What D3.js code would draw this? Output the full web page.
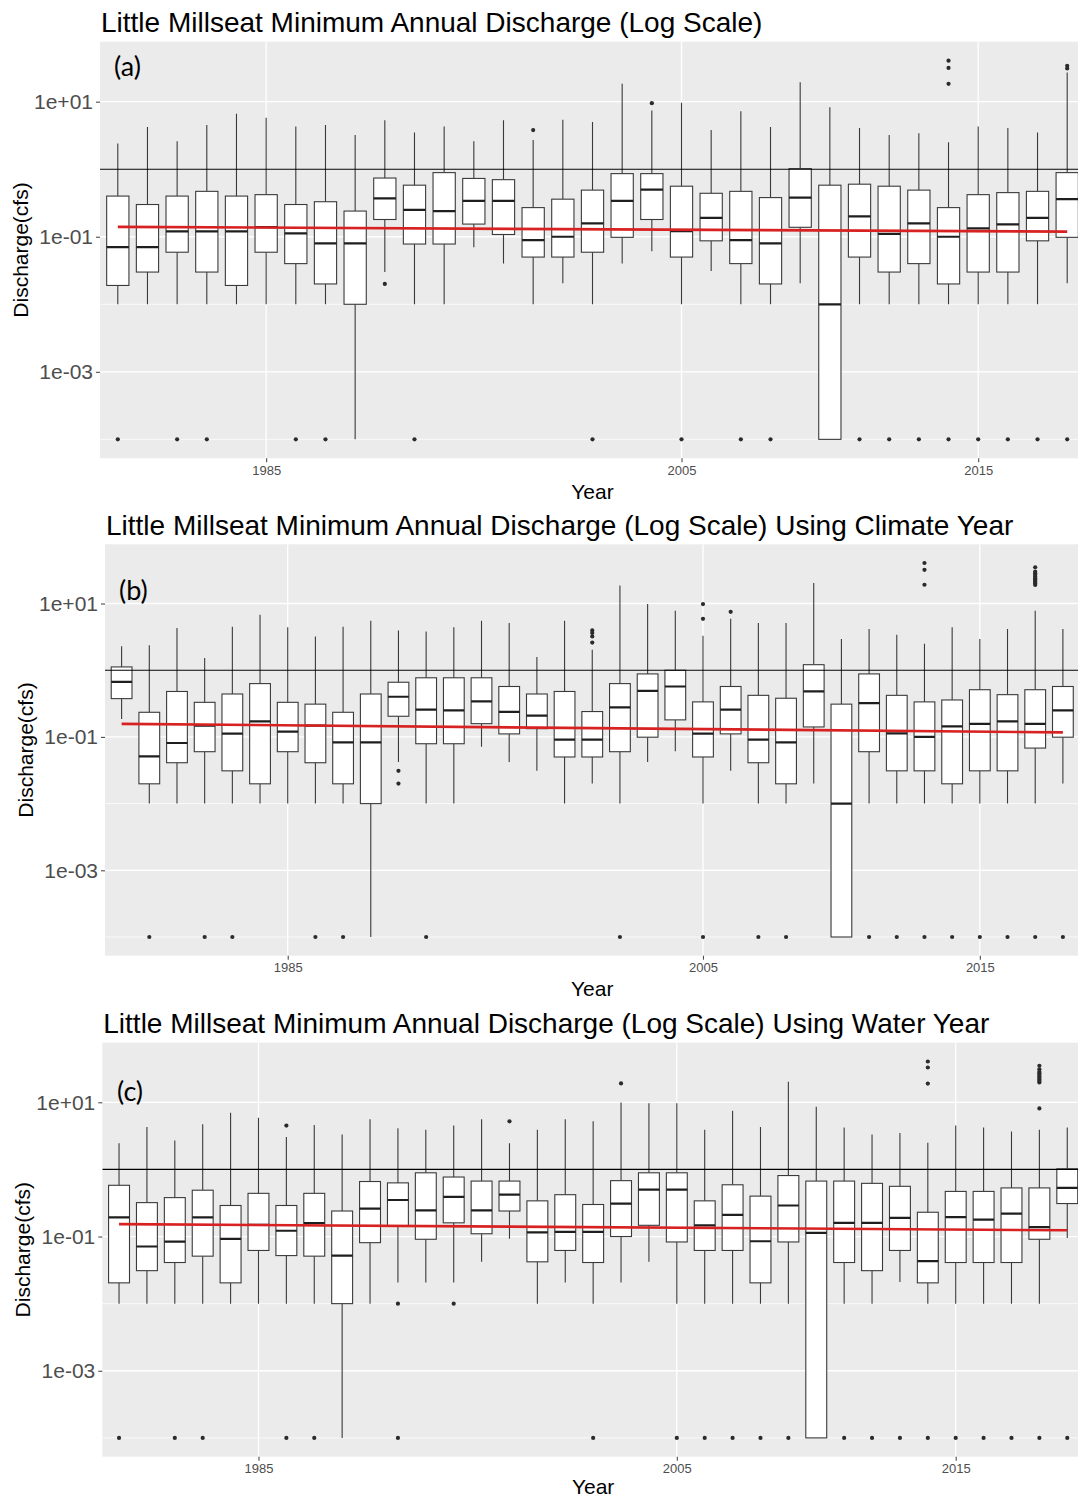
<!DOCTYPE html>
<html>
<head>
<meta charset="utf-8">
<script src="https://cdn.jsdelivr.net/npm/d3@7"></script>
<style>
  body { margin: 0; background: #fff; }
  svg { display: block; }
</style>
</head>
<body>
<svg id="chart" width="1078" height="1500"></svg>
<script>
// ---------- Shared axis settings ----------
const yMajorTicks = [10, 0.1, 0.001];
const yMajorLabels = ["1e+01", "1e-01", "1e-03"];
const yMinorTicks = [1, 0.01, 0.0001];
const xTickYears = [1985, 2005, 2015];
const referenceLevel = 1;

// ---------- (a) calendar year ----------
const yearsA = [1980,1981,1982,1983,1984,1985,1986,1987,1988,1989,1990,1991,1992,
  1999,2000,2001,2002,2003,2004,2005,2006,2007,2008,2009,2010,2011,2012,2013,2014,2015,2016,2017,2018];
const loA  = [0.01,0.01,0.01,0.01,0.01,0.01,0.01,0.01,0.0001,0.03,0.01,0.01,0.07,0.04,0.01,0.0205,0.01,0.04,0.061,0.01,0.031,0.01,0.01,0.0205,0.0001,0.01,0.01,0.01,0.01,0.01,0.01,0.01,0.0205];
const q1A  = [0.019,0.03,0.059,0.03,0.019,0.059,0.04,0.02,0.01,0.18,0.078,0.078,0.154,0.108,0.05,0.05,0.059,0.098,0.18,0.05,0.087,0.04,0.02,0.138,0.0001,0.05,0.03,0.04,0.02,0.03,0.03,0.087,0.098];
const medA = [0.07,0.07,0.12,0.12,0.12,0.139,0.112,0.08,0.08,0.37,0.25,0.24,0.34,0.34,0.089,0.10,0.158,0.34,0.50,0.121,0.19,0.089,0.08,0.38,0.01,0.20,0.11,0.158,0.10,0.133,0.152,0.19,0.36];
const q3A  = [0.40,0.30,0.40,0.47,0.40,0.42,0.30,0.33,0.24,0.74,0.58,0.89,0.73,0.70,0.27,0.36,0.49,0.86,0.86,0.56,0.44,0.47,0.38,1.02,0.58,0.60,0.56,0.49,0.27,0.42,0.45,0.47,0.89];
const hiA  = [2.4,4.2,2.6,4.5,6.6,5.8,4.3,4.5,3.2,5.3,3.5,4.3,2.6,5.3,2.7,5.4,5.0,18.4,7.4,9.6,3.8,7.2,4.2,19.4,8.3,4.06,3.2,3.4,2.5,4.3,4.06,3.5,27];
const outA = [[0.0001],[],[0.0001],[0.0001],[],[],[0.0001],[0.0001],[],[0.02],[0.0001],[],[],[],[3.8],[],[0.0001],[],[9.5],[0.0001],[],[0.0001],[0.0001],[],[],[0.0001],[0.0001],[0.0001],[0.0001,18.4,31.6,40.5],[0.0001],[0.0001],[0.0001],[0.0001,31,34]];
const trendA = [0.14, 0.119];

// ---------- (b) climate year ----------
const yearsB = [1979,1980,1981,1982,1983,1984,1985,1986,1987,1988,1989,1990,1991,1992,
  1998,1999,2000,2001,2002,2003,2004,2005,2006,2007,2008,2009,2010,2011,2012,2013,2014,2015,2016,2017,2018];
const loB  = [0.186,0.01,0.01,0.01,0.01,0.01,0.01,0.01,0.01,0.0001,0.042,0.01,0.01,0.071,0.042,0.031,0.01,0.02,0.01,0.042,0.061,0.01,0.031,0.01,0.01,0.02,0.0001,0.01,0.01,0.01,0.01,0.01,0.01,0.01,0.02];
const q1B  = [0.375,0.0198,0.041,0.06,0.031,0.0198,0.06,0.041,0.0198,0.01,0.204,0.079,0.079,0.158,0.111,0.133,0.05,0.05,0.06,0.099,0.18,0.05,0.111,0.041,0.0198,0.141,0.0001,0.06,0.031,0.031,0.0198,0.031,0.031,0.068,0.099];
const medB = [0.67,0.051,0.081,0.148,0.112,0.171,0.12,0.148,0.083,0.083,0.40,0.256,0.25,0.34,0.237,0.208,0.091,0.091,0.277,0.49,0.57,0.112,0.256,0.091,0.083,0.48,0.01,0.32,0.113,0.10,0.144,0.157,0.171,0.157,0.25];
const q3B  = [1.12,0.234,0.48,0.33,0.44,0.63,0.33,0.31,0.234,0.44,0.66,0.77,0.77,0.77,0.57,0.44,0.48,0.24,0.63,0.88,1.0,0.335,0.57,0.42,0.38,1.21,0.31,0.88,0.42,0.335,0.358,0.51,0.43,0.51,0.57];
const hiB  = [2.28,2.36,4.3,1.52,4.5,6.8,4.4,3.2,4.5,5.5,3.95,3.8,4.4,5.5,5.1,1.58,5.5,2.03,18.7,9.8,7.8,3.3,5.9,5.1,5.1,20.3,2.94,4.15,3.4,2.5,4.4,2.94,4.15,7.8,4.15];
const outB = [[],[0.0001],[],[0.0001],[0.0001],[],[],[0.0001],[0.0001],[],[0.031,0.02],[0.0001],[],[],[],[],[],[2.6,3.2,3.6,3.95],[0.0001],[],[],[0.0001,5.9,9.8],[7.5],[0.0001],[0.0001],[],[],[0.0001],[0.0001],[0.0001,19.1,32,40.5],[0.0001],[0.0001],[0.0001],[0.0001,19,20,21,22,23,24,25.5,27,28.5,30,35],[0.0001]];
const trendB = [0.157, 0.117];

// ---------- (c) water year ----------
const yearsC = [1980,1981,1982,1983,1984,1985,1986,1987,1988,1989,1990,1991,1992,
  1998,1999,2000,2001,2002,2003,2004,2005,2006,2007,2008,2009,2010,2011,2012,2013,2014,2015,2016,2017,2018,2019];
const loC  = [0.01,0.01,0.01,0.01,0.01,0.01,0.01,0.01,0.0001,0.01,0.0206,0.0206,0.0206,0.042,0.093,0.01,0.0206,0.01,0.0206,0.042,0.01,0.01,0.01,0.01,0.01,0.0001,0.01,0.01,0.021,0.01,0.01,0.01,0.01,0.01,0.095];
const q1C  = [0.0204,0.031,0.041,0.051,0.0204,0.062,0.052,0.051,0.01,0.081,0.143,0.091,0.16,0.11,0.24,0.042,0.062,0.041,0.10,0.147,0.083,0.062,0.062,0.0204,0.083,0.0001,0.041,0.031,0.062,0.0204,0.041,0.041,0.041,0.091,0.31];
const medC = [0.193,0.071,0.084,0.193,0.092,0.149,0.122,0.159,0.052,0.26,0.35,0.245,0.39,0.245,0.42,0.115,0.117,0.117,0.31,0.50,0.50,0.147,0.21,0.085,0.29,0.113,0.16,0.16,0.19,0.043,0.195,0.178,0.22,0.138,0.53];
const q3C  = [0.58,0.32,0.38,0.49,0.29,0.44,0.29,0.44,0.24,0.66,0.63,0.89,0.77,0.67,0.67,0.34,0.42,0.30,0.68,0.89,0.89,0.34,0.59,0.40,0.81,0.67,0.67,0.62,0.56,0.23,0.47,0.47,0.53,0.53,1.02];
const hiC  = [2.45,4.3,2.7,4.7,7.0,5.9,3.04,4.6,3.3,5.6,4.1,3.9,4.5,5.6,2.45,3.9,5.6,5.2,9.96,9.7,9.7,3.9,7.5,4.3,20.2,8.6,4.2,3.3,3.5,2.5,4.5,4.2,3.66,3.9,4.2];
const outC = [[0.0001],[],[0.0001],[0.0001],[],[],[0.0001,4.5],[0.0001],[],[],[0.01,0.0001],[],[0.01],[],[5.2],[],[],[0.0001],[19.1],[],[0.0001],[0.0001],[0.0001],[0.0001],[0.0001],[],[0.0001],[0.0001],[0.0001],[0.0001,19,33,40.5],[0.0001],[0.0001],[0.0001],[0.0001,8.1,19.8,20.8,21.8,23,24.3,25.5,27,28.5,31,35],[0.0001]];
const trendC = [0.153, 0.124];

// ---------- Panel layout ----------
const panels = [
  { id: "a", tag: "(a)", title: "Little Millseat Minimum Annual Discharge (Log Scale)",
    years: yearsA, lo: loA, q1: q1A, med: medA, q3: q3A, hi: hiA, out: outA, trend: trendA,
    x0: 100, x1: 1085, y0: 41.7, y1: 458.3, tagX: 114, tagY: 76, yearY: 499 },
  { id: "b", tag: "(b)", title: "Little Millseat Minimum Annual Discharge (Log Scale) Using Climate Year",
    years: yearsB, lo: loB, q1: q1B, med: medB, q3: q3B, hi: hiB, out: outB, trend: trendB,
    x0: 105, x1: 1079.5, y0: 544.3, y1: 955.7, tagX: 119, tagY: 600, yearY: 996 },
  { id: "c", tag: "(c)", title: "Little Millseat Minimum Annual Discharge (Log Scale) Using Water Year",
    years: yearsC, lo: loC, q1: q1C, med: medC, q3: q3C, hi: hiC, out: outC, trend: trendC,
    x0: 102.3, x1: 1084, y0: 1042.7, y1: 1456.7, tagX: 117, tagY: 1101, yearY: 1494 }
];

const svg = d3.select("#chart");
const FONT = "'Liberation Sans', Arial, sans-serif";
const boxStroke = "#3a3a3a";

panels.forEach(p => {
  const g = svg.append("g");
  const x = d3.scalePoint().domain(p.years).range([p.x0, p.x1]).padding(0.6);
  const allVals = d3.merge([p.lo, p.hi, d3.merge(p.out)]);
  const lmin = Math.log10(d3.min(allVals)), lmax = Math.log10(d3.max(allVals));
  const pad = (lmax - lmin) * 0.05;
  const y = d3.scaleLog().domain([10 ** (lmin - pad), 10 ** (lmax + pad)]).range([p.y1, p.y0]);
  const bw = x.step() * 0.75;

  const clipId = "clip-" + p.id;
  svg.append("defs").append("clipPath").attr("id", clipId)
    .append("rect").attr("x", p.x0).attr("y", p.y0)
    .attr("width", p.x1 - p.x0).attr("height", p.y1 - p.y0);

  // panel background
  g.append("rect").attr("x", p.x0).attr("y", p.y0)
    .attr("width", p.x1 - p.x0).attr("height", p.y1 - p.y0).attr("fill", "#ebebeb");

  const plot = g.append("g").attr("clip-path", `url(#${clipId})`);

  // grid lines
  plot.selectAll(".minor").data(yMinorTicks).join("line")
    .attr("x1", p.x0).attr("x2", p.x1).attr("y1", d => y(d)).attr("y2", d => y(d))
    .attr("stroke", "#fff").attr("stroke-width", 0.7);
  plot.selectAll(".major").data(yMajorTicks).join("line")
    .attr("x1", p.x0).attr("x2", p.x1).attr("y1", d => y(d)).attr("y2", d => y(d))
    .attr("stroke", "#fff").attr("stroke-width", 1.3);
  plot.selectAll(".vgrid").data(xTickYears).join("line")
    .attr("x1", d => x(d)).attr("x2", d => x(d)).attr("y1", p.y0).attr("y2", p.y1)
    .attr("stroke", "#fff").attr("stroke-width", 1.3);

  // boxplots
  const idx = d3.range(p.years.length);
  const bx = plot.append("g");
  bx.selectAll(".wu").data(idx).join("line")
    .attr("x1", i => x(p.years[i])).attr("x2", i => x(p.years[i]))
    .attr("y1", i => y(p.hi[i])).attr("y2", i => y(p.q3[i]))
    .attr("stroke", boxStroke).attr("stroke-width", 1.1);
  bx.selectAll(".wl").data(idx).join("line")
    .attr("x1", i => x(p.years[i])).attr("x2", i => x(p.years[i]))
    .attr("y1", i => y(p.q1[i])).attr("y2", i => y(p.lo[i]))
    .attr("stroke", boxStroke).attr("stroke-width", 1.1);
  bx.selectAll(".bx").data(idx).join("rect")
    .attr("x", i => x(p.years[i]) - bw / 2).attr("width", bw)
    .attr("y", i => y(p.q3[i])).attr("height", i => y(p.q1[i]) - y(p.q3[i]))
    .attr("fill", "#fff").attr("stroke", boxStroke).attr("stroke-width", 1.1);
  bx.selectAll(".md").data(idx).join("line")
    .attr("x1", i => x(p.years[i]) - bw / 2).attr("x2", i => x(p.years[i]) + bw / 2)
    .attr("y1", i => y(p.med[i])).attr("y2", i => y(p.med[i]))
    .attr("stroke", "#1e1e1e").attr("stroke-width", 2.2);
  const pts = [];
  p.out.forEach((arr, i) => arr.forEach(v => pts.push({ yr: p.years[i], v })));
  bx.selectAll(".ol").data(pts).join("circle")
    .attr("cx", d => x(d.yr)).attr("cy", d => y(d.v)).attr("r", 2.1)
    .attr("fill", "#2b2b2b");

  // reference level line
  plot.append("line").attr("x1", p.x0).attr("x2", p.x1)
    .attr("y1", y(referenceLevel)).attr("y2", y(referenceLevel))
    .attr("stroke", "#000").attr("stroke-width", 1.1);

  // trend line
  const first = p.years[0], last = p.years[p.years.length - 1];
  plot.append("line")
    .attr("x1", x(first)).attr("y1", y(p.trend[0]))
    .attr("x2", x(last)).attr("y2", y(p.trend[1]))
    .attr("stroke", "#d82222").attr("stroke-width", 2.6);

  // axes
  const ya = g.append("g").attr("transform", `translate(${p.x0},0)`)
    .call(d3.axisLeft(y).tickValues(yMajorTicks)
      .tickFormat((d, i) => yMajorLabels[i]).tickSize(4).tickPadding(3));
  ya.select(".domain").remove();
  ya.selectAll(".tick line").attr("stroke", "#4d4d4d").attr("stroke-width", 1.1);
  ya.selectAll(".tick text").attr("font-family", FONT).attr("font-size", 21)
    .attr("fill", "#4d4d4d");

  const xa = g.append("g").attr("transform", `translate(0,${p.y1})`)
    .call(d3.axisBottom(x).tickValues(xTickYears).tickSize(4).tickPadding(3));
  xa.select(".domain").remove();
  xa.selectAll(".tick line").attr("stroke", "#4d4d4d").attr("stroke-width", 1.1);
  xa.selectAll(".tick text").attr("font-family", FONT).attr("font-size", 13)
    .attr("fill", "#4d4d4d");

  // titles
  g.append("text").attr("x", p.x0 + 1).attr("y", p.y0 - 9.5)
    .attr("font-family", FONT).attr("font-size", 28).attr("fill", "#000")
    .text(p.title);
  g.append("text").attr("x", (p.x0 + p.x1) / 2).attr("y", p.yearY)
    .attr("text-anchor", "middle").attr("font-family", FONT).attr("font-size", 21)
    .attr("fill", "#000").text("Year");
  g.append("text")
    .attr("transform", `translate(${p.x0 - 72},${(p.y0 + p.y1) / 2}) rotate(-90)`)
    .attr("text-anchor", "middle").attr("font-family", FONT).attr("font-size", 21)
    .attr("fill", "#000").text("Discharge(cfs)");
  g.append("text").attr("x", p.tagX).attr("y", p.tagY)
    .attr("font-family", "Lato, 'Open Sans', sans-serif").attr("font-size", 27)
    .attr("fill", "#000").text(p.tag);
});
</script>
</body>
</html>
